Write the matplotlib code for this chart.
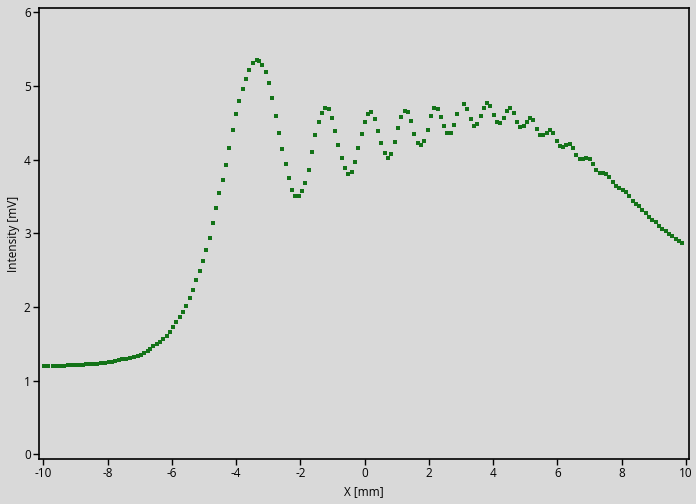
import matplotlib
matplotlib.use("Agg")
from matplotlib import pyplot as plt

x_mm = [-9.978, -9.844, -9.707, -9.595, -9.480, -9.346, -9.241, -9.116, -8.992, -8.889,
        -8.774, -8.662, -8.537, -8.431, -8.319, -8.204, -8.080, -7.965, -7.871, -7.768,
        -7.644, -7.541, -7.426, -7.302, -7.177, -7.062, -6.959, -6.857, -6.741, -6.670,
        -6.576, -6.452, -6.359, -6.265, -6.141, -6.047, -5.954, -5.861, -5.736, -5.643,
        -5.549, -5.425, -5.331, -5.238, -5.114, -5.020, -4.927, -4.802, -4.709, -4.616,
        -4.522, -4.398, -4.304, -4.211, -4.087, -3.993, -3.900, -3.775, -3.682, -3.589,
        -3.464, -3.358, -3.277, -3.184, -3.059, -2.966, -2.873, -2.748, -2.655, -2.561,
        -2.437, -2.344, -2.250, -2.157, -2.032, -1.939, -1.846, -1.721, -1.628, -1.534,
        -1.410, -1.317, -1.223, -1.099, -1.005, -0.912, -0.819, -0.694, -0.601, -0.507,
        -0.383, -0.289, -0.196, -0.072, 0.022, 0.115, 0.209, 0.333, 0.426, 0.520,
        0.644, 0.738, 0.831, 0.956, 1.049, 1.142, 1.267, 1.360, 1.454, 1.547,
        1.671, 1.765, 1.858, 1.983, 2.076, 2.169, 2.294, 2.387, 2.481, 2.574,
        2.698, 2.792, 2.885, 3.103, 3.196, 3.321, 3.414, 3.508, 3.632, 3.726,
        3.819, 3.912, 4.037, 4.130, 4.224, 4.348, 4.441, 4.535, 4.659, 4.753,
        4.846, 4.971, 5.064, 5.157, 5.251, 5.375, 5.469, 5.562, 5.686, 5.780,
        5.873, 5.998, 6.091, 6.184, 6.278, 6.402, 6.496, 6.589, 6.713, 6.807,
        6.900, 7.025, 7.118, 7.211, 7.336, 7.429, 7.523, 7.616, 7.740, 7.834,
        7.927, 8.052, 8.145, 8.238, 8.363, 8.456, 8.550, 8.643, 8.768, 8.861,
        8.954, 9.079, 9.172, 9.266, 9.390, 9.483, 9.577, 9.701, 9.795, 9.888]

intensity_mv = [1.195, 1.195, 1.195, 1.195, 1.195, 1.203, 1.208, 1.208, 1.208, 1.212,
                1.216, 1.222, 1.222, 1.230, 1.230, 1.239, 1.243, 1.249, 1.249, 1.266,
                1.276, 1.290, 1.294, 1.311, 1.321, 1.334, 1.352, 1.375, 1.402, 1.425,
                1.466, 1.493, 1.528, 1.561, 1.602, 1.656, 1.724, 1.792, 1.860, 1.928,
                2.009, 2.118, 2.226, 2.362, 2.488, 2.620, 2.769, 2.932, 3.136, 3.339,
                3.543, 3.723, 3.923, 4.154, 4.398, 4.615, 4.792, 4.955, 5.090, 5.212,
                5.307, 5.348, 5.335, 5.280, 5.185, 5.036, 4.832, 4.588, 4.357, 4.140,
                3.937, 3.746, 3.584, 3.502, 3.502, 3.570, 3.679, 3.855, 4.099, 4.330,
                4.507, 4.629, 4.697, 4.683, 4.561, 4.384, 4.194, 4.018, 3.882, 3.801,
                3.828, 3.964, 4.154, 4.344, 4.507, 4.615, 4.642, 4.547, 4.384, 4.222,
                4.086, 4.018, 4.072, 4.235, 4.425, 4.574, 4.656, 4.642, 4.520, 4.344,
                4.222, 4.194, 4.249, 4.398, 4.588, 4.697, 4.683, 4.574, 4.452, 4.357,
                4.357, 4.466, 4.615, 4.751, 4.683, 4.547, 4.452, 4.479, 4.588, 4.697,
                4.765, 4.724, 4.602, 4.507, 4.493, 4.561, 4.656, 4.697, 4.629, 4.507,
                4.439, 4.452, 4.507, 4.561, 4.534, 4.412, 4.330, 4.330, 4.357, 4.398,
                4.357, 4.249, 4.181, 4.167, 4.194, 4.208, 4.154, 4.059, 4.004, 4.004,
                4.018, 4.004, 3.937, 3.855, 3.814, 3.814, 3.801, 3.760, 3.692, 3.638,
                3.611, 3.584, 3.556, 3.502, 3.434, 3.394, 3.366, 3.312, 3.271, 3.217,
                3.176, 3.149, 3.095, 3.054, 3.027, 2.986, 2.959, 2.918, 2.891, 2.864]

x_ticks = [-10, -8, -6, -4, -2, 0, 2, 4, 6, 8, 10]
y_ticks = [0, 1, 2, 3, 4, 5, 6]

bg = '#d9d9d9'
plt.rcParams['font.family'] = ['Open Sans', 'DejaVu Sans']

fig = plt.figure(figsize=(6.96, 5.04), dpi=100, facecolor=bg)
ax = fig.add_axes([0.056, 0.089, 0.934, 0.895], facecolor=bg)

ax.plot(x_mm, intensity_mv, linestyle='none', marker='s', markersize=2.2,
        color='#137318', markeredgewidth=0)

ax.set_xlim(-10.134, 10.093)
ax.set_ylim(-0.064, 6.058)
ax.set_xticks(x_ticks)
ax.set_yticks(y_ticks)
ax.set_xticklabels([str(t) for t in x_ticks])
ax.set_yticklabels([str(t) for t in y_ticks])
ax.tick_params(direction='out', length=4, width=1, labelsize=8.5, pad=2,
               colors='black', top=False, right=False)
for s in ax.spines.values():
    s.set_color('black')
    s.set_linewidth(1.2)

ax.set_xlabel('X [mm]', fontsize=8.5, labelpad=3)
ax.set_ylabel('Intensity [mV]', fontsize=8.5, labelpad=3)

fig.savefig('out.png', dpi=100, facecolor=bg)
